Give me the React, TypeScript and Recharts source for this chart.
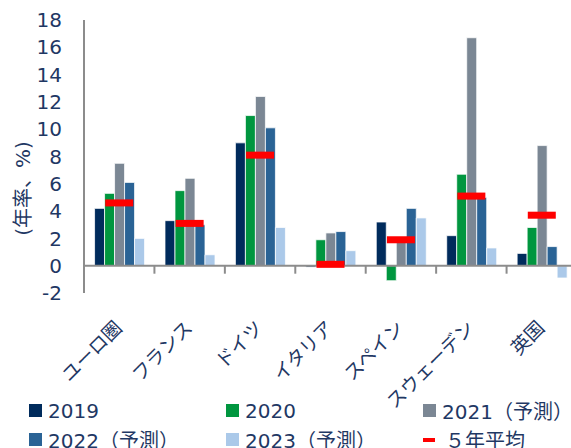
import React from "react";
import {
  ComposedChart,
  Bar,
  Line,
  XAxis,
  YAxis,
  ReferenceLine,
  Legend,
} from "recharts";

const categories = ["ユーロ圏", "フランス", "ドイツ", "イタリア", "スペイン", "スウェーデン", "英国"];
const v2019 = [4.2, 3.3, 9.0, -0.1, 3.2, 2.2, 0.9];
const v2020 = [5.3, 5.5, 11.0, 1.9, -1.1, 6.7, 2.8];
const v2021 = [7.5, 6.4, 12.4, 2.4, 1.8, 16.7, 8.8];
const v2022 = [6.1, 3.0, 10.1, 2.5, 4.2, 5.0, 1.4];
const v2023 = [2.0, 0.8, 2.8, 1.1, 3.5, 1.3, -0.9];
const avg5 = [4.6, 3.1, 8.1, 0.1, 1.9, 5.1, 3.7];
const yTicks = [-2, 0, 2, 4, 6, 8, 10, 12, 14, 16, 18];

const FONT = '"DejaVu Sans", "Noto Sans CJK JP", sans-serif';
const TEXT = "#1f3864";
const AXIS = "#8c8c8c";

const series = [
  { key: "y2019", name: "2019", color: "#002b5c", kind: "bar" },
  { key: "y2020", name: "2020", color: "#00963f", kind: "bar" },
  { key: "y2021", name: "2021（予測）", color: "#7b8794", kind: "bar" },
  { key: "y2022", name: "2022（予測）", color: "#2a6395", kind: "bar" },
  { key: "y2023", name: "2023（予測）", color: "#abc9e9", kind: "bar" },
  { key: "avg", name: "５年平均", color: "#ff0000", kind: "line" },
];

const data = categories.map((name, i) => ({
  name,
  y2019: v2019[i],
  y2020: v2020[i],
  y2021: v2021[i],
  y2022: v2022[i],
  y2023: v2023[i],
  avg: avg5[i],
}));

// zero line with small tick marks at the category boundaries
const ZeroAxis = (props: any) => {
  const { x1, x2, y1 } = props;
  const n = categories.length;
  const step = (x2 - x1) / n;
  return (
    <g>
      <line x1={x1} x2={x2 + 10} y1={y1} y2={y1} stroke={AXIS} strokeWidth={2} />
      {categories.slice(1).map((_, i) => (
        <line
          key={i}
          x1={x1 + step * (i + 1)}
          x2={x1 + step * (i + 1)}
          y1={y1}
          y2={y1 + 8}
          stroke={AXIS}
          strokeWidth={2}
        />
      ))}
    </g>
  );
};

const CatTick = (props: any) => {
  const { x, y, payload } = props;
  return (
    <g transform={`translate(${x + 4},${y + 28})`}>
      <text textAnchor="end" transform="rotate(-45)" fill={TEXT} fontSize={19} fontFamily={FONT}>
        {payload.value}
      </text>
    </g>
  );
};

const AvgMark = (props: any) => {
  const { cx, cy } = props;
  if (cx == null || cy == null) return <g />;
  return <rect x={cx - 14} y={cy - 3.5} width={28} height={7} fill="#ff0000" />;
};

const YTitle = (props: any) => {
  const { viewBox } = props;
  const cx = viewBox.x + 23;
  const cy = viewBox.y + viewBox.height / 2 + 32;
  return (
    <text
      x={cx}
      y={cy}
      transform={`rotate(-90, ${cx}, ${cy})`}
      textAnchor="middle"
      dominantBaseline="central"
      fill={TEXT}
      fontSize={20}
      fontFamily={FONT}
    >
      (年率、%)
    </text>
  );
};

const LegendBox = () => (
  <div
    style={{
      height: 52,
      display: "grid",
      gridTemplateColumns: "197px 197px 180px",
      gridAutoRows: "29px",
      paddingLeft: 29,
      marginTop: -2,
      fontFamily: FONT,
      fontSize: 20,
      color: TEXT,
    }}
  >
    {series.map((s) => (
      <div key={s.key} style={{ display: "flex", alignItems: "center", whiteSpace: "nowrap" }}>
        {s.kind === "bar" ? (
          <span style={{ width: 13, height: 13, background: s.color, marginRight: 6 }} />
        ) : (
          <span style={{ width: 12, height: 4, background: s.color, marginRight: 10 }} />
        )}
        {s.name}
      </div>
    ))}
  </div>
);

export default function App() {
  return (
    <div style={{ position: "absolute", left: 0, top: 0, width: 571, height: 448, overflow: "hidden" }}>
      <ComposedChart
        width={580}
        height={448}
        data={data}
        margin={{ top: 20, right: 3, bottom: 0, left: 0 }}
        barCategoryGap="15%"
        barGap={0}
      >
        <YAxis
          domain={[-2, 18]}
          ticks={yTicks}
          interval={0}
          width={84}
          axisLine={{ stroke: AXIS, strokeWidth: 2 }}
          tickLine={false}
          tickMargin={16}
          tick={{ fill: TEXT, fontSize: 20, fontFamily: FONT }}
          label={<YTitle />}
        />
        <XAxis
          dataKey="name"
          height={105}
          axisLine={false}
          tickLine={false}
          interval={0}
          tick={<CatTick />}
        />
        <ReferenceLine y={0} shape={<ZeroAxis />} />
        {series
          .filter((s) => s.kind === "bar")
          .map((s) => (
            <Bar
              key={s.key}
              dataKey={s.key}
              name={s.name}
              fill={s.color}
              stroke="#ffffff"
              strokeWidth={0.75}
              isAnimationActive={false}
            />
          ))}
        <Line
          dataKey="avg"
          name="５年平均"
          stroke="#ff0000"
          strokeWidth={0}
          dot={<AvgMark />}
          activeDot={false}
          isAnimationActive={false}
        />
        <Legend verticalAlign="bottom" content={<LegendBox />} />
      </ComposedChart>
    </div>
  );
}
